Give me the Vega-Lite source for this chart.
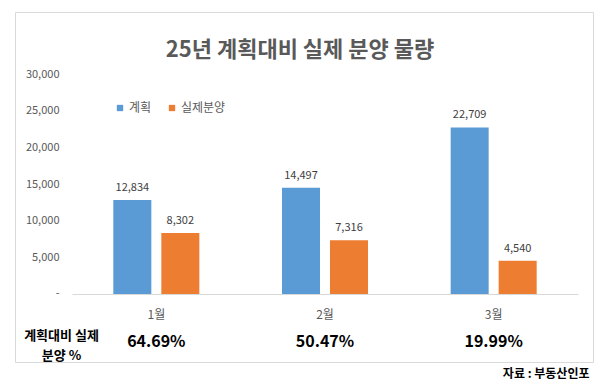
{
  "$schema": "https://vega.github.io/schema/vega-lite/v6.json",
  "width": 578,
  "height": 350,
  "autosize": {"type": "none"},
  "padding": {"left": 15, "top": 12, "right": 8, "bottom": 30},
  "background": "white",
  "title": {
    "text": "25년 계획대비 실제 분양 물량",
    "anchor": "middle",
    "orient": "top",
    "offset": -60,
    "baseline": "middle",
    "fontSize": 22,
    "fontWeight": "bold",
    "color": "#595959",
    "font": "Noto Sans CJK KR",
    "dx": -4
  },
  "config": {
    "view": {"stroke": "#d9d9d9", "strokeWidth": 1},
    "font": "Noto Sans CJK KR"
  },
  "datasets": {
    "bars": [
      {"month": "1월", "series": "계획", "value": 12834},
      {"month": "1월", "series": "실제분양", "value": 8302},
      {"month": "2월", "series": "계획", "value": 14497},
      {"month": "2월", "series": "실제분양", "value": 7316},
      {"month": "3월", "series": "계획", "value": 22709},
      {"month": "3월", "series": "실제분양", "value": 4540}
    ],
    "pct": [
      {"month": "1월", "ratio": "64.69%"},
      {"month": "2월", "ratio": "50.47%"},
      {"month": "3월", "ratio": "19.99%"}
    ]
  },
  "encoding": {
    "x": {
      "field": "month",
      "type": "nominal",
      "sort": ["1월", "2월", "3월"],
      "scale": {"range": [57, 563], "paddingInner": 0.49, "paddingOuter": 0.245},
      "axis": {
        "orient": "bottom",
        "offset": -68,
        "domainColor": "#d9d9d9",
        "domainWidth": 1,
        "ticks": false,
        "grid": false,
        "labelPadding": 15,
        "labelFontSize": 12,
        "labelColor": "#595959",
        "labelAngle": 0,
        "title": "자료 : 부동산인포",
        "titleX": 574,
        "titleY": 79,
        "titleAlign": "right",
        "titleBaseline": "middle",
        "titleFontSize": 12,
        "titleFontWeight": "bold",
        "titleColor": "#000000"
      }
    }
  },
  "layer": [
    {
      "data": {"name": "bars"},
      "mark": {"type": "bar"},
      "encoding": {
        "xOffset": {"field": "series", "sort": ["계획", "실제분양"], "scale": {"paddingInner": 0.208, "paddingOuter": 0}},
        "y": {
          "field": "value",
          "type": "quantitative",
          "scale": {"domain": [-9273, 38455], "nice": false, "zero": false},
          "axis": {
            "values": [0, 5000, 10000, 15000, 20000, 25000, 30000],
            "labelExpr": "datum.value == 0 ? '-' : format(datum.value, ',')",
            "domain": false,
            "ticks": false,
            "grid": false,
            "offset": -57,
            "labelPadding": 13,
            "labelFontSize": 11,
            "labelColor": "#595959",
            "title": ["계획대비 실제", "분양 %"],
            "titleAngle": 0,
            "titleX": -11,
            "titleY": 323,
            "titleAlign": "center",
            "titleBaseline": "middle",
            "titleFontSize": 13,
            "titleFontWeight": "bold",
            "titleColor": "#000000",
            "titleLineHeight": 20
          }
        },
        "color": {
          "field": "series",
          "type": "nominal",
          "scale": {"domain": ["계획", "실제분양"], "range": ["#5B9BD5", "#ED7D31"]},
          "legend": {
            "orient": "none",
            "legendX": 99,
            "legendY": 90,
            "direction": "horizontal",
            "title": null,
            "symbolType": "square",
            "symbolSize": 40,
            "symbolStrokeWidth": 0,
            "labelFontSize": 12,
            "labelColor": "#595959",
            "columnPadding": 14,
            "labelOffset": 3,
            "padding": 0
          }
        }
      }
    },
    {
      "data": {"name": "bars"},
      "mark": {"type": "text", "baseline": "bottom", "dy": -7, "fontSize": 11, "color": "#404040"},
      "encoding": {
        "xOffset": {"field": "series", "sort": ["계획", "실제분양"]},
        "y": {"field": "value", "type": "quantitative"},
        "text": {"field": "value", "type": "quantitative", "format": ","}
      }
    },
    {
      "data": {"name": "pct"},
      "mark": {"type": "text", "baseline": "middle", "fontSize": 16, "fontWeight": "bold", "color": "#000000"},
      "encoding": {
        "y": {"datum": -6545, "type": "quantitative"},
        "text": {"field": "ratio", "type": "nominal"}
      }
    }
  ]
}
